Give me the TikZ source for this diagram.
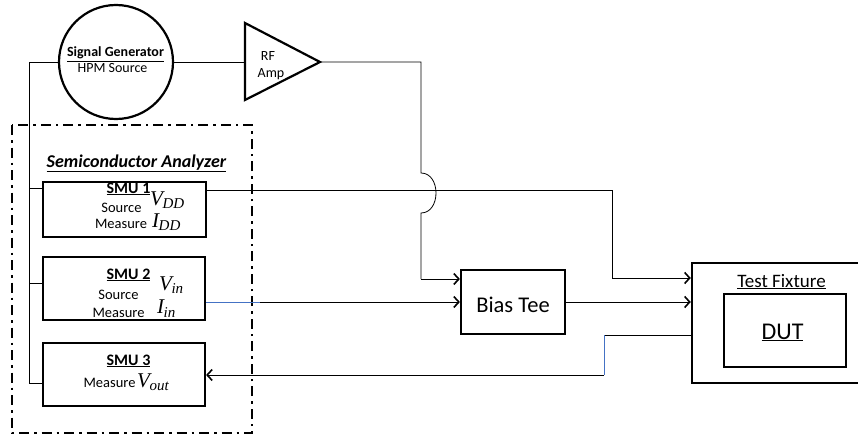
\documentclass[tikz,border=0pt]{standalone}
\usepackage{fontspec}
\setmainfont{Carlito}
\newfontfamily\tms{Liberation Serif}
\usetikzlibrary{arrows.meta}
\newcommand\fsz[1]{\fontsize{#1}{#1}\selectfont}
\newcommand\smuvar[2]{{\tms\itshape\fsz{21}#1\kern-0.5pt\raisebox{-3.5pt}{\fsz{15}#2}}}
\definecolor{lineblue}{RGB}{68,114,196}
\begin{document}
\begin{tikzpicture}[x=1pt,y=-1pt,
  box/.style={draw, line width=2.2pt, inner sep=0pt},
  conn/.style={line width=0.8pt},
  arr/.style={conn, -{Straight Barb[length=5pt,width=11pt,line width=1.6pt]}},
  lbl/.style={anchor=base, inner sep=0pt},
  mlbl/.style={anchor=base west, inner sep=0pt},
]
\useasboundingbox (0,0) rectangle (858,441);

% Semiconductor analyzer frame
\draw[line width=2.5pt, dash pattern=on 10pt off 5pt on 2.5pt off 5pt] (12,125) rectangle (252,433);
\node[lbl] (satitle) at (136.5,167) {\fsz{18}\bfseries\itshape\underline{Semiconductor Analyzer}};

% Signal generator
\node[box, circle, minimum size=114pt] (gen) at (116,62) {};
\node[lbl] (gent) at (115.5,57) {\fsz{14}\bfseries\underline{Signal Generator}};
\node[lbl] (gens) at (112.5,73) {\fsz{14}HPM Source};

% RF amp
\coordinate (ampA) at (245,23);
\coordinate (ampB) at (245,100);
\coordinate (ampin) at (245,62);
\coordinate (amptip) at (320,62);
\draw[line width=2.2pt, line join=miter] (ampA) -- (amptip) -- (ampB) -- cycle;
\node[lbl] (rf) at (268,61) {\fsz{14}RF};
\node[lbl] (amp) at (271,78) {\fsz{14}Amp};

% SMU boxes
\node[box, minimum width=163pt, minimum height=55pt] (smu1) at (124.5,209.5) {};
\node[lbl] (smu1t) at (128.5,193) {\fsz{16}\bfseries\underline{SMU 1}};
\node[lbl] (smu1s) at (121.5,212) {\fsz{14.5}Source};
\node[lbl] (smu1m) at (121,228) {\fsz{14.5}Measure};
\node[mlbl] (smu1v) at (150,205) {\smuvar{V}{DD}};
\node[mlbl] (smu1i) at (152,227) {\smuvar{I}{DD}};

\node[box, minimum width=162pt, minimum height=63pt] (smu2) at (124,288.5) {};
\node[lbl] (smu2t) at (128.5,279) {\fsz{16}\bfseries\underline{SMU 2}};
\node[lbl] (smu2s) at (118.5,299) {\fsz{14.5}Source};
\node[lbl] (smu2m) at (118.5,317) {\fsz{14.5}Measure};
\node[mlbl] (smu2v) at (159,290) {\smuvar{V}{in}};
\node[mlbl] (smu2i) at (157,313.5) {\smuvar{I}{in}};

\node[box, minimum width=162pt, minimum height=63pt] (smu3) at (124,374.5) {};
\node[lbl] (smu3t) at (128.5,365) {\fsz{16}\bfseries\underline{SMU 3}};
\node[lbl] (smu3m) at (109.5,387) {\fsz{14.5}Measure};
\node[mlbl] (smu3v) at (137,387) {\smuvar{V}{out}};

% Bias tee
\node[box, minimum width=104pt, minimum height=64pt] (bt) at (513,302) {};
\node[lbl] (btt) at (513,312) {\fsz{22.5}Bias Tee};

% Test fixture and DUT
\node[box, line width=2.5pt, minimum width=178pt, minimum height=120pt] (tf) at (781,323) {};
\node[lbl] (tft) at (781.5,287) {\fsz{19}\underline{Test Fixture}};
\node[box, minimum width=122pt, minimum height=73pt] (dut) at (785,330.5) {};
\node[lbl] (dutt) at (782.5,339) {\fsz{24}\underline{DUT}};

% Spine from generator to SMUs
\coordinate (sp1) at (29,62);
\coordinate (sp2) at (29,383);
\draw[conn] (gen.west) -- (sp1) -- (sp2) -- (sp2 -| smu3.west);
\draw[conn] (29,188) -- (smu1.west |- 0,188);
\draw[conn] (29,283) -- (smu2.west |- 0,283);

% Generator to amp
\draw[conn] (gen.east) -- (ampin);

% Amp to bias tee, with hop over SMU1 line
\coordinate (h1) at (421,173);
\coordinate (h2) at (421,213);
\draw[conn] (amptip) -- (421,62) -- (h1) .. controls (441,173) and (441,213) .. (h2) -- (421,279);
\draw[arr] (421,279) -- (bt.west |- 0,279);

% SMU1 to test fixture
\coordinate (s1o) at (smu1.east |- 0,190);
\draw[conn] (s1o) -- (612,190) -- (612,278);
\draw[arr] (612,278) -- (tf.west |- 0,278);

% SMU2 to bias tee
\coordinate (s2o) at (smu2.east |- 0,302);
\coordinate (s2m) at (260,302);
\draw[conn, lineblue] (s2o) -- (s2m);
\draw[arr] (s2m) -- (bt.west |- 0,302);

% Bias tee to test fixture
\draw[arr] (bt.east |- 0,302) -- (tf.west |- 0,302);

% Test fixture to SMU3
\coordinate (r1) at (604,335);
\coordinate (r2) at (604,375);
\draw[conn] (tf.west |- r1) -- (r1);
\draw[conn, lineblue] (r1) -- (r2);
\draw[arr] (r2) -- (smu3.east |- r2);
\end{tikzpicture}
\end{document}
